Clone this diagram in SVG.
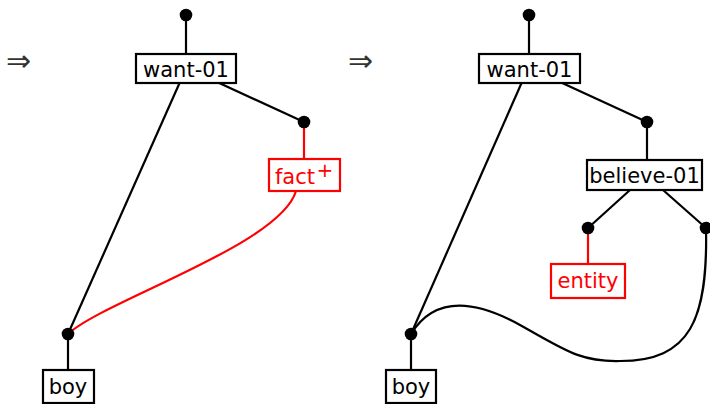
<svg xmlns="http://www.w3.org/2000/svg" width="710" height="404" viewBox="0 0 710 404">
<style>
.box{fill:#fff;stroke:#000;stroke-width:2.2}
.rbox{fill:#fff;stroke:#f00;stroke-width:2.2}
.lbl{font-family:"DejaVu Sans",sans-serif;font-size:21px;fill:#000;text-anchor:middle}
.rlbl{font-family:"DejaVu Sans",sans-serif;font-size:21px;fill:#f00;text-anchor:middle}
.e{fill:none;stroke:#000;stroke-width:2.2}
.re{fill:none;stroke:#f00;stroke-width:2.2}
.dot{fill:#000}
.arr{font-family:"DejaVu Sans",sans-serif;font-size:30px;fill:#333}
</style>
<rect width="710" height="404" fill="#fff"/>
<text class="arr" x="6" y="71">⇒</text>
<text class="arr" x="348" y="71">⇒</text>
<g id="connectors">
  <line class="e" x1="186" y1="15" x2="186" y2="54"/>
  <line class="e" x1="217" y1="82" x2="304" y2="122"/>
  <line class="re" x1="304" y1="122" x2="304" y2="159"/>
  <line class="e" x1="180" y1="82" x2="68" y2="334"/>
  <path class="re" d="M68,334 C105,300 280,245 296,191"/>
  <line class="e" x1="68" y1="334" x2="68" y2="370"/>
  <line class="e" x1="529" y1="15" x2="529" y2="54"/>
  <line class="e" x1="560" y1="82" x2="647" y2="122"/>
  <line class="e" x1="647" y1="122" x2="647" y2="160"/>
  <line class="e" x1="630" y1="190" x2="588" y2="228"/>
  <line class="e" x1="663" y1="190" x2="706" y2="228"/>
  <line class="re" x1="588" y1="228" x2="588" y2="264"/>
  <line class="e" x1="522" y1="82" x2="411" y2="334"/>
  <path class="e" d="M411,334 C435,295 475,300 520,325 C565,350 580,362 620,361 C690,361 708,320 706,228"/>
  <line class="e" x1="411" y1="334" x2="411" y2="370"/>
</g>
<g id="dots">
  <circle class="dot" cx="186" cy="15" r="6.3"/>
  <circle class="dot" cx="304" cy="122" r="6.3"/>
  <circle class="dot" cx="68" cy="334" r="6.3"/>
  <circle class="dot" cx="529" cy="15" r="6.3"/>
  <circle class="dot" cx="647" cy="122" r="6.3"/>
  <circle class="dot" cx="588" cy="228" r="6.3"/>
  <circle class="dot" cx="706" cy="228" r="6.3"/>
  <circle class="dot" cx="411" cy="334" r="6.3"/>
</g>
<g id="n-want-left">
  <rect class="box" x="136" y="54" width="100" height="29"/>
  <text class="lbl" x="186" y="77">want-01</text>
</g>
<g id="n-fact">
  <rect class="rbox" x="269" y="159" width="71" height="32"/>
  <text class="rlbl" x="295" y="184">fact</text>
  <text class="rlbl" x="325" y="177" style="font-size:20px">+</text>
</g>
<g id="n-boy-left">
  <rect class="box" x="43" y="370" width="51" height="33"/>
  <text class="lbl" x="68" y="394">boy</text>
</g>
<g id="n-want-right">
  <rect class="box" x="479" y="54" width="101" height="29"/>
  <text class="lbl" x="529.5" y="77">want-01</text>
</g>
<g id="n-believe">
  <rect class="box" x="587" y="160" width="115" height="30"/>
  <text class="lbl" x="644.5" y="183">believe-01</text>
</g>
<g id="n-entity">
  <rect class="rbox" x="551" y="264" width="74" height="34"/>
  <text class="rlbl" x="588" y="288">entity</text>
</g>
<g id="n-boy-right">
  <rect class="box" x="386" y="370" width="50" height="33"/>
  <text class="lbl" x="411" y="394">boy</text>
</g>
</svg>
